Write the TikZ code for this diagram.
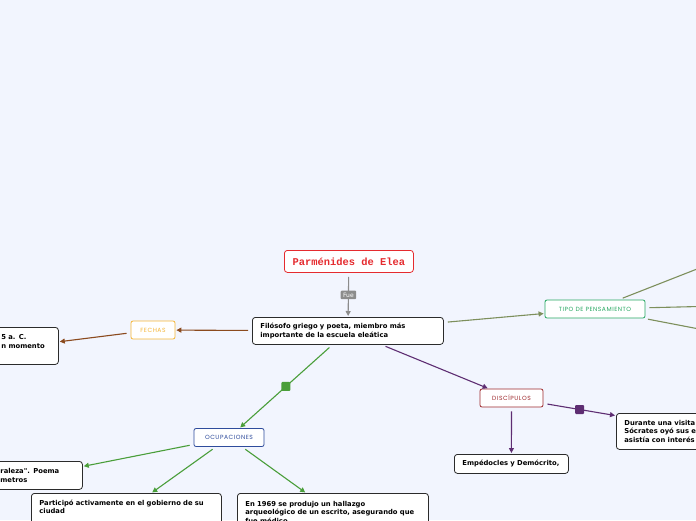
\documentclass[tikz,border=0pt]{standalone}
\usepackage{fontspec}
\usetikzlibrary{arrows.meta}
\newfontfamily\boxfont{DejaVu Sans}
\newfontfamily\titlefont{Liberation Mono}
\newfontfamily\catfont{Poppins}[LetterSpace=9]
\definecolor{bg}{HTML}{F2F5FE}
\definecolor{titred}{HTML}{E52B2F}
\definecolor{fuegray}{HTML}{8C8C8C}
\definecolor{fechor}{HTML}{F5B637}
\definecolor{fechbr}{HTML}{8B4A1E}
\definecolor{tipogr}{HTML}{27A862}
\definecolor{tipoln}{HTML}{7D8F5C}
\definecolor{discrd}{HTML}{9E2A2E}
\definecolor{discln}{HTML}{5E2D72}
\definecolor{ocubl}{HTML}{2F4C9C}
\definecolor{oculn}{HTML}{4A9E3A}
\definecolor{boxline}{HTML}{2B2B2B}

\begin{document}
\begin{tikzpicture}[x=1pt, y=-1pt,
  idea/.style={draw=boxline, rounded corners=3pt, fill=white, line width=.8pt, anchor=north west,
    font=\boxfont\bfseries\fontsize{6.8}{8.6}\selectfont, align=left, inner xsep=8pt, inner ysep=3pt},
  cat/.style={draw, rounded corners=2pt, fill=white, line width=.8pt, inner sep=0pt,
    minimum height=18pt, font=\catfont\fontsize{6}{7}\selectfont},
  link/.style={line width=1.1pt, shorten <=4pt, shorten >=1pt, -{Triangle[length=5pt, width=5pt]}},
  branch/.style={line width=1.1pt, shorten <=4pt},
  hub/.style={rounded corners=1pt, minimum size=9pt, inner sep=0pt}]
\path[fill=bg] (0,0) rectangle (696,520);
\useasboundingbox (0,0) rectangle (696,520);
\clip (0,0) rectangle (696,520);

% central topic
\node[draw=titred, rounded corners=3pt, fill=white, line width=.8pt, anchor=north west,
  minimum width=129pt, minimum height=22pt, text=titred,
  font=\titlefont\bfseries\fontsize{10.4}{12}\selectfont] (title) at (284,250) {Parménides de Elea};
\node[idea, text width=175pt, minimum height=27pt] (main) at (252,317)
  {Filósofo griego y poeta, miembro más\\importante de la escuela eleática};
\draw[link, fuegray] (title) -- node[fill=fuegray, text=white, inner xsep=2.5pt, inner ysep=2pt,
  rounded corners=1pt, font=\boxfont\fontsize{6}{7}\selectfont] (fue) {Fue} (main);

% branches
\node[cat, draw=fechor, text=fechor, minimum width=44pt] (fechas) at (153,330) {FECHAS};
\node[cat, draw=tipogr, text=tipogr, minimum width=100pt] (tipo) at (595,309) {TIPO DE PENSAMIENTO};
\node[cat, draw=discrd, text=discrd, minimum width=63pt] (disc) at (511.5,398) {DISCÍPULOS};
\node[cat, draw=ocubl, text=ocubl, minimum width=70pt] (ocup) at (229,437.5) {OCUPACIONES};

% leaves
\node[idea, text width=49pt, minimum height=37pt] (nacio) at (-7,327) {5 a. C.\\n momento\\\phantom{x}};
\node[idea, text width=74pt, minimum height=28pt] (poema) at (-8,461) {raleza". Poema\\metros};
\node[idea, text width=174pt, minimum height=35pt] (gobierno) at (31,493)
  {Participó activamente en el gobierno de su\\ciudad\\\phantom{x}};
\node[idea, text width=175pt, minimum height=38pt] (hallazgo) at (237,493)
  {En 1969 se produjo un hallazgo\\arqueológico de un escrito, asegurando que\\fue médico};
\node[idea, text width=98pt, minimum height=19pt] (empedocles) at (454,454) {Empédocles y Demócrito,};
\node[idea, text width=170pt, minimum height=36pt, inner ysep=2pt] (visita) at (616,413)
  {Durante una visita a Atenas,\\Sócrates oyó sus enseñanzas\\asistía con interés};
\coordinate (tipoA) at (720,260);
\coordinate (tipoB) at (720,306);
\coordinate (tipoC) at (720,333);

% connectors
\draw[link, fechbr] (main) -- (fechas);
\draw[link, fechbr] (fechas) -- (nacio);
\draw[link, tipoln] (main) -- (tipo);
\draw[branch, tipoln] (tipo) -- (tipoA);
\draw[branch, tipoln] (tipo) -- (tipoB);
\draw[branch, tipoln] (tipo) -- (tipoC);
\draw[link, discln] (main) -- (disc);
\draw[link, discln] (disc) -- (empedocles);
\draw[link, discln] (disc) -- node[hub, fill=discln] (hubdisc) {} (visita);
\draw[link, oculn] (main) -- node[hub, fill=oculn] (hubocup) {} (ocup);
\draw[link, oculn] (ocup) -- (poema);
\draw[link, oculn] (ocup) -- (gobierno);
\draw[link, oculn] (ocup) -- (hallazgo);
\end{tikzpicture}
\end{document}
